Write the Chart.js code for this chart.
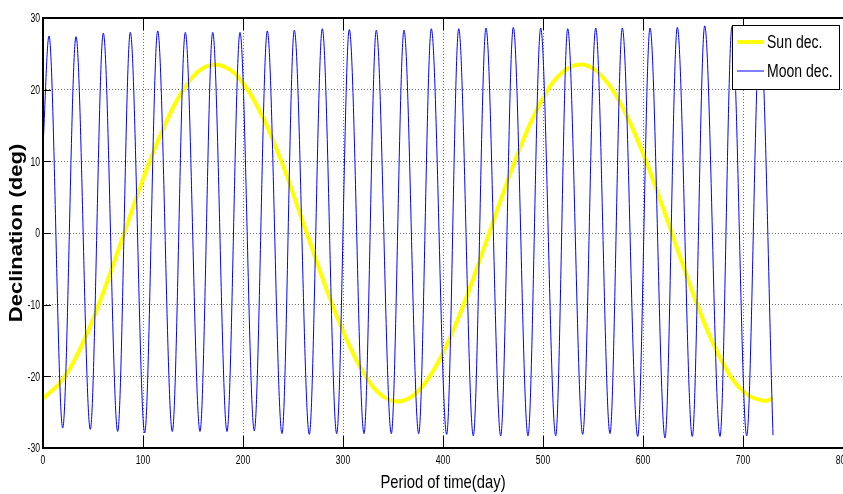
<!DOCTYPE html>
<html>
<head>
<meta charset="utf-8">
<script src="https://cdn.jsdelivr.net/npm/chart.js@4.4.1/dist/chart.umd.min.js"></script>
<style>
html,body{margin:0;padding:0;background:#fff;overflow:hidden;}
#wrap{width:843px;height:494px;position:relative;}
canvas{display:block;}
</style>
</head>
<body>
<div id="wrap"><canvas id="c" width="843" height="494"></canvas></div>
<script>
const xTicks = [0, 100, 200, 300, 400, 500, 600, 700, 800];
const yTicks = [-30, -20, -10, 0, 10, 20, 30];
const seriesLabels = ['Sun dec.', 'Moon dec.'];
const xTitle = 'Period of time(day)';
const yTitle = 'Declination (deg)';

const sunDays = [0,20,40,60,80,100,120,140,160,180,200,220,240,260,280,300,320,340,360,380,400,420,440,460,480,500,520,540,560,580,600,620,640,660,680,700,720,730];
const sunDec  = [-23.1,-20.4,-15.3,-8.4,-0.5,7.5,14.5,19.9,23.0,23.3,20.9,16.1,9.4,1.5,-6.5,-13.7,-19.4,-22.8,-23.4,-21.3,-16.7,-10.2,-2.5,5.5,12.9,18.8,22.5,23.5,21.7,17.4,11.1,3.5,-4.5,-12.1,-18.2,-22.1,-23.4,-23.1];

const moonDays = [0,6,19.7,33,47.3,60.3,74.7,87.3,101.7,114.7,129.3,142.3,157,169.7,184,197,211.3,224.3,239,251.3,266.3,279.3,293.7,306.3,321,333.3,348.3,361,375.7,388.3,403.7,415.7,430.3,443,457.7,470.3,485,497.7,512.7,524.7,539.7,552.7,567,579.3,594.7,607,622,634.3,649.3,661.7,677,689,703.7,717,730];
const moonDec  = [12,27.5,-27.2,27.4,-27.4,27.9,-27.7,28.0,-27.9,28.2,-27.7,28.0,-27.7,28.0,-27.7,28.0,-27.6,28.2,-28.0,28.3,-28.1,28.5,-28.0,28.4,-28.0,28.3,-28.0,28.3,-28.0,28.5,-28.1,28.5,-28.3,28.6,-28.3,28.7,-28.3,28.6,-28.3,28.5,-28.1,28.6,-28.0,28.6,-28.4,28.6,-28.6,28.7,-28.4,28.9,-28.4,28.8,-28.3,28.8,-28.2];

const SANS = "'Liberation Sans', Arial, sans-serif";

function squeezedText(ctx, text, x, y, font, sx, sy, align, rot) {
  ctx.save();
  ctx.translate(x, y);
  if (rot) ctx.rotate(rot);
  ctx.scale(sx, sy);
  ctx.font = font;
  ctx.fillStyle = '#000';
  ctx.textAlign = align;
  ctx.textBaseline = 'middle';
  ctx.fillText(text, 0, 0);
  ctx.restore();
}

const framePlugin = {
  id: 'frame',
  afterDatasetsDraw(chart) {
    const {ctx, chartArea: a, scales: {x, y}} = chart;
    ctx.save();
    ctx.strokeStyle = '#000';
    ctx.lineWidth = 1;
    ctx.beginPath();
    xTicks.forEach(v => {
      const px = Math.round(x.getPixelForValue(v)) + 0.5;
      ctx.moveTo(px, a.bottom); ctx.lineTo(px, a.bottom - 12);
      ctx.moveTo(px, a.top); ctx.lineTo(px, a.top + 12);
    });
    yTicks.forEach(v => {
      const py = Math.round(y.getPixelForValue(v)) + 0.5;
      ctx.moveTo(a.left, py); ctx.lineTo(a.left + 8, py);
    });
    ctx.stroke();
    ctx.lineWidth = 2;
    ctx.beginPath();
    ctx.moveTo(a.right + 2, a.top);
    ctx.lineTo(a.left, a.top);
    ctx.lineTo(a.left, a.bottom);
    ctx.lineTo(a.right + 2, a.bottom);
    ctx.stroke();
    ctx.restore();
  },
  afterDraw(chart) {
    const {ctx, chartArea: a, scales: {x, y}} = chart;
    // tick labels
    xTicks.forEach(v => {
      squeezedText(ctx, String(v), x.getPixelForValue(v), a.bottom + 13, '12px ' + SANS, 0.72, 1, 'center');
    });
    yTicks.forEach(v => {
      squeezedText(ctx, String(v), a.left - 3, y.getPixelForValue(v) + 1, '12px ' + SANS, 0.72, 1, 'right');
    });
    // axis titles
    squeezedText(ctx, xTitle, (a.left + a.right) / 2, 483, '19px ' + SANS, 0.78, 1, 'center');
    squeezedText(ctx, yTitle, 17, (a.top + a.bottom) / 2, 'bold 22px ' + SANS, 1, 0.8, 'center', -Math.PI / 2);
    // legend
    const ds = chart.data.datasets;
    const bx = 732.5, by = 25.5, bw = 107, bh = 64;
    ctx.save();
    ctx.fillStyle = '#fff';
    ctx.fillRect(bx, by, bw, bh);
    ctx.strokeStyle = '#000';
    ctx.lineWidth = 1;
    ctx.strokeRect(bx, by, bw, bh);
    ctx.restore();
    const rows = [42, 71];
    ds.forEach((d, i) => {
      ctx.save();
      ctx.strokeStyle = d.borderColor;
      ctx.lineWidth = d.borderWidth;
      ctx.beginPath();
      ctx.moveTo(737, rows[i]); ctx.lineTo(764, rows[i]);
      ctx.stroke();
      ctx.restore();
      squeezedText(ctx, d.label, 767, rows[i] + 1, '18px ' + SANS, 0.78, 1, 'left');
    });
  }
};

new Chart(document.getElementById('c'), {
  type: 'line',
  data: {
    datasets: [
      {
        label: seriesLabels[0],
        data: sunDays.map((d, i) => ({x: d, y: sunDec[i]})),
        borderColor: '#ffff00',
        borderWidth: 4,
        pointRadius: 0,
        tension: 0.4,
        fill: false,
        order: 2
      },
      {
        label: seriesLabels[1],
        data: moonDays.map((d, i) => ({x: d, y: moonDec[i]})),
        borderColor: '#0000ff',
        borderWidth: 1,
        pointRadius: 0,
        cubicInterpolationMode: 'monotone',
        fill: false,
        order: 1
      }
    ]
  },
  options: {
    responsive: false,
    animation: false,
    devicePixelRatio: 1,
    layout: {padding: {top: 18, right: 0, left: 0, bottom: 0}},
    plugins: {legend: {display: false}, tooltip: {enabled: false}},
    scales: {
      x: {
        type: 'linear',
        min: 0, max: 800,
        afterBuildTicks: s => { s.ticks = xTicks.map(v => ({value: v})); },
        afterFit: s => { s.height = 46; s.paddingRight = 0; s.paddingLeft = 0; },
        grid: {color: 'rgba(0,0,0,0.55)', lineWidth: 1, drawTicks: false},
        border: {display: false, dash: [1, 2]},
        ticks: {display: false},
        title: {display: false}
      },
      y: {
        min: -30, max: 30,
        afterBuildTicks: s => { s.ticks = yTicks.map(v => ({value: v})); },
        afterFit: s => { s.width = 43; },
        grid: {color: 'rgba(0,0,0,0.55)', lineWidth: 1, drawTicks: false},
        border: {display: false, dash: [1, 2]},
        ticks: {display: false},
        title: {display: false}
      }
    }
  },
  plugins: [framePlugin]
});
</script>
</body>
</html>
